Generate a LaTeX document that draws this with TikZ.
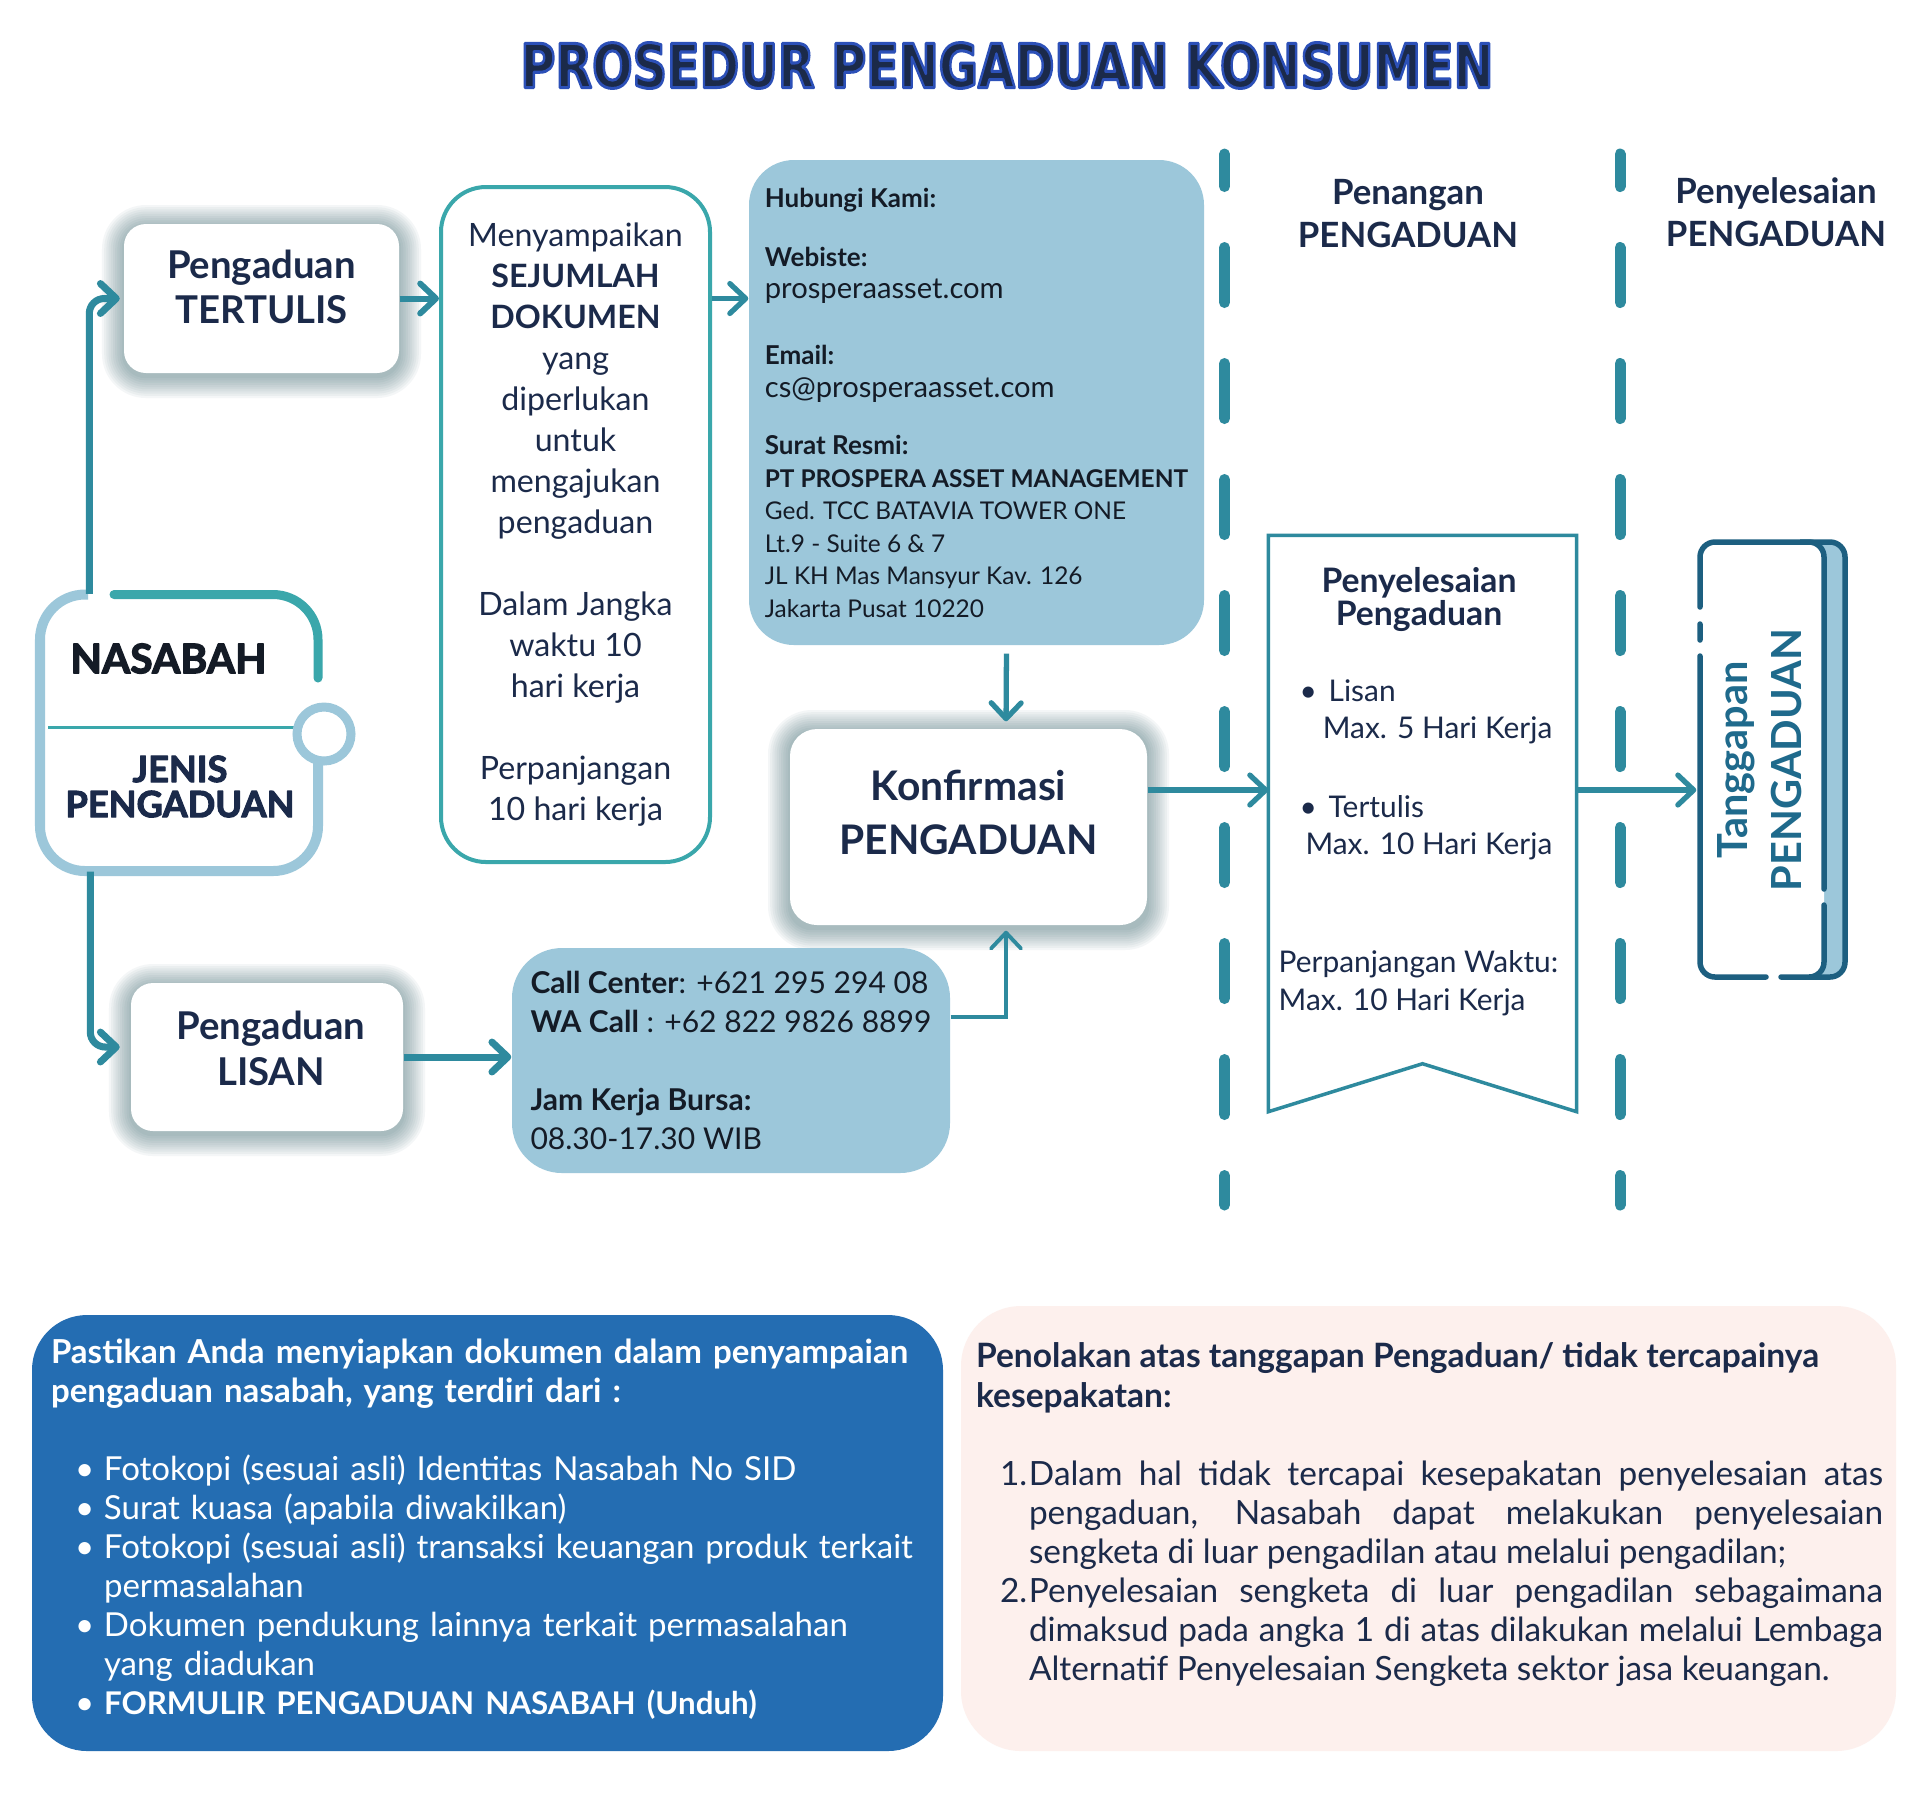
\documentclass[tikz,border=0pt]{standalone}
\usepackage{fontspec}
\setmainfont{Lato}
\newfontfamily\titlefont{DejaVu Sans}
\usetikzlibrary{arrows.meta}
\setlength{\parindent}{0pt}

\definecolor{navy}{HTML}{1B2A4A}
\definecolor{ink}{HTML}{141B26}
\definecolor{tealarrow}{HTML}{2E8A9E}
\definecolor{tealline}{HTML}{3AA7AB}
\definecolor{paleblue}{HTML}{9CC7DA}
\definecolor{darkteal}{HTML}{1D5F80}
\definecolor{tanggapanblue}{HTML}{1F6A8C}
\definecolor{boxblue}{HTML}{246DB2}
\definecolor{blush}{HTML}{FDF0ED}
\definecolor{shadowtint}{HTML}{3E6A72}

\newcommand{\heavy}[2]{\special{pdf:literal direct 1 j 2 Tr #1 w}#2\special{pdf:literal direct 0 Tr}}
\newcommand{\titletext}{\resizebox{9.73cm}{0.45cm}{\special{pdf:literal direct 1 j 2 Tr 0.5 w 0.173 0.314 0.722 RG}\titlefont\bfseries PROSEDUR PENGADUAN KONSUMEN\special{pdf:literal direct 0 Tr}}}
\newcommand{\itembul}{\hspace*{0.24cm}\makebox[0.29cm][l]{\textbullet}}
\newcommand{\itemcont}{\hspace*{0.53cm}}
\newcommand{\lbl}[1]{{\fontsize{7.4pt}{9.25pt}\selectfont\bfseries #1}}
\newcommand{\web}[1]{{\fontsize{8.3pt}{9.25pt}\selectfont #1}}
% soft shadow under a box: centre x, centre y, width, height
\newcommand{\boxshadow}[4]{%
  \foreach \k in {1,...,10}{%
    \pgfmathsetmacro{\shx}{#3/2+0.022*\k}%
    \pgfmathsetmacro{\shy}{#4/2+0.022*\k}%
    \pgfmathsetmacro{\shr}{0.22+0.022*\k}%
    \fill[shadowtint, opacity=0.055, rounded corners=\shr cm] (#1-\shx,#2-\shy-0.03) rectangle (#1+\shx,#2+\shy-0.03);
  }}

\tikzset{
  conn/.style={draw=tealarrow, line width=1.5pt, -{Straight Barb[length=4.5pt,width=8.5pt,round]}},
  lane/.style={draw=tealarrow, line width=0.11cm, line cap=round, dash pattern=on 0.55cm off 0.61cm, dash phase=0.225cm},
  whitebox/.style={fill=white, rounded corners=0.22cm},
  boxlabel/.style={align=center, text=navy, font=\fontsize{10.9pt}{13pt}\selectfont\bfseries},
  bluebox/.style={fill=paleblue, rounded corners=0.45cm},
  headlabel/.style={align=center, text=navy, font=\fontsize{9.9pt}{12.2pt}\selectfont\bfseries},
  bannertext/.style={inner sep=0, text=navy, font=\fontsize{8.5pt}{10.8pt}\selectfont}
}

\begin{document}
\begin{tikzpicture}
  \fill[white] (0,0) rectangle (19.2,-18);
  \useasboundingbox (0,0) rectangle (19.2,-18);

  \node[text=navy] (title) at (10.07,-0.655) {\titletext};

  \draw[lane] (12.245,-1.54) -- (12.245,-12.05);
  \draw[lane] (16.20,-1.54) -- (16.20,-12.05);
  \node[headlabel] (laneA) at (14.08,-2.135) {Penangan\\PENGADUAN};
  \node[headlabel] (laneB) at (17.76,-2.12) {Penyelesaian\\PENGADUAN};

  \node[minimum width=2.78cm, minimum height=2.765cm, inner sep=0] (nasabah) at (1.79,-7.3275) {};
  \draw[paleblue, line width=0.10cm, rounded corners=0.45cm] (0.88,-5.945) -- (0.40,-5.945) -- (0.40,-8.71) -- (3.18,-8.71) -- (3.18,-7.55);
  \draw[tealline, line width=0.09cm, line cap=round, rounded corners=0.45cm] (1.14,-5.945) -- (3.18,-5.945) -- (3.18,-6.78);
  \draw[tealline, line width=0.03cm] (0.48,-7.27) -- (2.98,-7.27);
  \draw[paleblue, line width=0.09cm, fill=white] (3.24,-7.34) circle (0.27);
  \node[font=\fontsize{11.6pt}{13pt}\selectfont\bfseries, text=ink] (nasabahT) at (1.685,-6.585) {\heavy{0.35}{NASABAH}};
  \node[font=\fontsize{10.3pt}{10pt}\selectfont\bfseries, text=navy, align=center] (jenisT) at (1.80,-7.865) {\heavy{0.3}{JENIS\\PENGADUAN}};

  \boxshadow{2.615}{-2.985}{2.75}{1.49}
  \node[whitebox, minimum width=2.75cm, minimum height=1.49cm] (tertulis) at (2.615,-2.985) {};
  \node[boxlabel] (tertulisT) at ([yshift=0.115cm]tertulis.center) {Pengaduan\\TERTULIS};
  \boxshadow{2.67}{-10.57}{2.72}{1.48}
  \node[whitebox, minimum width=2.72cm, minimum height=1.48cm] (lisan) at (2.67,-10.57) {};
  \node[boxlabel] (lisanT) at ([xshift=0.04cm,yshift=0.085cm]lisan.center) {Pengaduan\\LISAN};

  \node[draw=tealline, line width=0.04cm, rounded corners=0.45cm, minimum width=2.69cm, minimum height=6.75cm,
        align=center, text=navy, font=\fontsize{9.15pt}{11.67pt}\selectfont] (dokumen) at (5.755,-5.245)
    {Menyampaikan\\\textbf{SEJUMLAH}\\\textbf{DOKUMEN}\\yang\\diperlukan\\untuk\\mengajukan\\pengaduan\\[11.67pt]Dalam Jangka\\waktu 10\\hari kerja\\[11.67pt]Perpanjangan\\10 hari kerja};

  \node[bluebox, minimum width=4.55cm, minimum height=4.85cm, align=left, text=ink,
        font=\fontsize{6.95pt}{9.25pt}\selectfont] (hubungi) at (9.765,-4.025)
    {\lbl{Hubungi Kami:}\\[0.265cm]\lbl{Webiste:}\\\web{prosperaasset.com}\\[0.335cm]\lbl{Email:}\\\web{cs@prosperaasset.com}\\[0.25cm]\lbl{Surat Resmi:}\\\textbf{PT PROSPERA ASSET MANAGEMENT}\\Ged. TCC BATAVIA TOWER ONE\\Lt.9 - Suite 6 \& 7\\JL KH Mas Mansyur Kav. 126\\Jakarta Pusat 10220};

  \boxshadow{9.685}{-8.27}{3.57}{1.96}
  \node[whitebox, rounded corners=0.27cm, minimum width=3.57cm, minimum height=1.96cm] (konfirmasi) at (9.685,-8.27) {};
  \node[boxlabel, font=\fontsize{11.6pt}{15.6pt}\selectfont\bfseries] (konfirmasiT) at ([yshift=0.145cm]konfirmasi.center) {Konfirmasi\\PENGADUAN};

  \node[bluebox, rounded corners=0.5cm, minimum width=4.38cm, minimum height=2.25cm, align=left, text=ink,
        font=\fontsize{8.55pt}{11.1pt}\selectfont] (call) at (7.31,-10.605)
    {\textbf{Call Center}: +621 295 294 08\\\textbf{WA Call} : +62 822 9826 8899\\[11.1pt]\textbf{Jam Kerja Bursa:}\\08.30-17.30 WIB};

  \node[minimum width=3.07cm, minimum height=5.75cm, inner sep=0] (banner) at (14.225,-8.235) {};
  \draw[tealarrow, line width=0.035cm, fill=white] (banner.north west) -- (banner.north east) -- (banner.south east)
    -- ([yshift=0.48cm]banner.south) -- (banner.south west) -- cycle;
  \node[font=\fontsize{9.6pt}{9.6pt}\selectfont\bfseries, text=navy, align=center] (bannerT) at (14.19,-5.995) {Penyelesaian\\Pengaduan};
  \node[bannertext, anchor=west] (lisanItem) at (12.99,-6.91) {\makebox[0.29cm][l]{\textbullet}Lisan};
  \node[bannertext, anchor=east] (lisanMax) at (15.53,-7.30) {Max. 5 Hari Kerja};
  \node[bannertext, anchor=west] (tulisItem) at (12.99,-8.07) {\makebox[0.29cm][l]{\textbullet}Tertulis};
  \node[bannertext, anchor=east] (tulisMax) at (15.53,-8.46) {Max. 10 Hari Kerja};
  \node[bannertext, anchor=west, align=left] (extend) at (12.78,-9.83) {Perpanjangan Waktu:\\Max. 10 Hari Kerja};

  \node[minimum width=1.51cm, minimum height=4.41cm, inner sep=0] (tanggapan) at (17.725,-7.595) {};
  \draw[darkteal, line width=0.055cm, fill=paleblue, rounded corners=0.15cm] (18.0,-5.42) -- (18.45,-5.42) -- (18.45,-9.77) -- (18.0,-9.77);
  \fill[white, rounded corners=0.15cm] (17.00,-5.42) rectangle (18.24,-9.77);
  \draw[darkteal, line width=0.055cm, line cap=round, rounded corners=0.15cm]
    (17.00,-6.56) -- (17.00,-9.77) -- (17.66,-9.77)
    (17.81,-9.77) -- (18.24,-9.77) -- (18.24,-9.05)
    (18.24,-8.89) -- (18.24,-5.42) -- (17.00,-5.42) -- (17.00,-6.07)
    (17.00,-6.24) -- (17.00,-6.40);
  \node[rotate=90, align=center, text=tanggapanblue, font=\fontsize{11.8pt}{15.4pt}\selectfont\bfseries] (tanggapanT) at (17.60,-7.60) {Tanggapan\\PENGADUAN};

  \node[fill=boxblue, rounded corners=0.55cm, minimum width=9.11cm, minimum height=4.36cm] (docs) at (4.875,-15.33) {};
  \node[anchor=north west, inner sep=0, text width=8.75cm, align=left, text=white,
        font=\fontsize{9.4pt}{11.1pt}\selectfont] (docsT) at ([xshift=0.19cm,yshift=-0.24cm]docs.north west)
    {\mbox{\fontsize{9.4pt}{11.1pt}\selectfont\bfseries Pastikan Anda menyiapkan dokumen dalam penyampaian}\\
     \mbox{\fontsize{9.4pt}{11.1pt}\selectfont\bfseries pengaduan nasabah, yang terdiri dari :}\\[11.1pt]
     \mbox{\itembul Fotokopi (sesuai asli) Identitas Nasabah No SID}\\
     \mbox{\itembul Surat kuasa (apabila diwakilkan)}\\
     \mbox{\itembul Fotokopi (sesuai asli) transaksi keuangan produk terkait}\\
     \mbox{\itemcont permasalahan}\\
     \mbox{\itembul Dokumen pendukung lainnya terkait permasalahan}\\
     \mbox{\itemcont yang diadukan}\\
     \mbox{\itembul{\fontsize{8.9pt}{11.1pt}\selectfont\bfseries FORMULIR PENGADUAN NASABAH (Unduh)}}};

  \node[fill=blush, rounded corners=0.6cm, minimum width=9.35cm, minimum height=4.45cm] (reject) at (14.285,-15.285) {};
  \node[anchor=north west, inner sep=0, text width=9.07cm, align=justify, text=navy,
        font=\fontsize{9.5pt}{11.1pt}\selectfont] (rejectT) at ([xshift=0.15cm,yshift=-0.37cm]reject.north west)
    {{\fontsize{9.55pt}{11.1pt}\selectfont\bfseries Penolakan atas tanggapan Pengaduan/ tidak tercapainya\newline kesepakatan:}\par
     \vspace{11.1pt}
     \hangindent=0.53cm\hangafter=1\hspace*{0.24cm}\makebox[0.29cm][l]{1.}Dalam hal tidak tercapai kesepakatan penyelesaian atas\linebreak pengaduan, Nasabah dapat melakukan penyelesaian\linebreak sengketa di luar pengadilan atau melalui pengadilan;\par
     \hangindent=0.53cm\hangafter=1\hspace*{0.24cm}\makebox[0.29cm][l]{2.}Penyelesaian sengketa di luar pengadilan sebagaimana\linebreak dimaksud pada angka 1 di atas dilakukan melalui Lembaga\linebreak Alternatif Penyelesaian Sengketa sektor jasa keuangan.\par};

  \draw[conn, line width=2pt, rounded corners=0.15cm, shorten >=1pt] ([xshift=0.5cm]nasabah.north west) |- (tertulis.west);
  \draw[conn, line width=2pt, rounded corners=0.15cm, shorten >=3pt] ([xshift=0.51cm]nasabah.south west) |- ([yshift=0.1cm]lisan.west);
  \draw[conn, line width=1.7pt] (tertulis.east) -- (tertulis.east -| dokumen.west);
  \draw[conn] (dokumen.east |- tertulis.east) -- (hubungi.west |- tertulis.east);
  \draw[conn, shorten <=0.08cm, shorten >=0.07cm] ([xshift=0.3cm]hubungi.south) -- ([xshift=0.375cm]konfirmasi.north);
  \draw[conn, line width=2pt] (lisan.east) -- (lisan.east -| call.west);
  \draw[conn, line width=1.1pt, shorten >=0.05cm] ([yshift=0.435cm]call.east) -| ([xshift=0.375cm]konfirmasi.south);
  \draw[conn] (konfirmasi.east |- 0,-7.9) -- (banner.west |- 0,-7.9);
  \draw[conn] (banner.east |- 0,-7.9) -- (tanggapan.west |- 0,-7.9);
\end{tikzpicture}
\end{document}
